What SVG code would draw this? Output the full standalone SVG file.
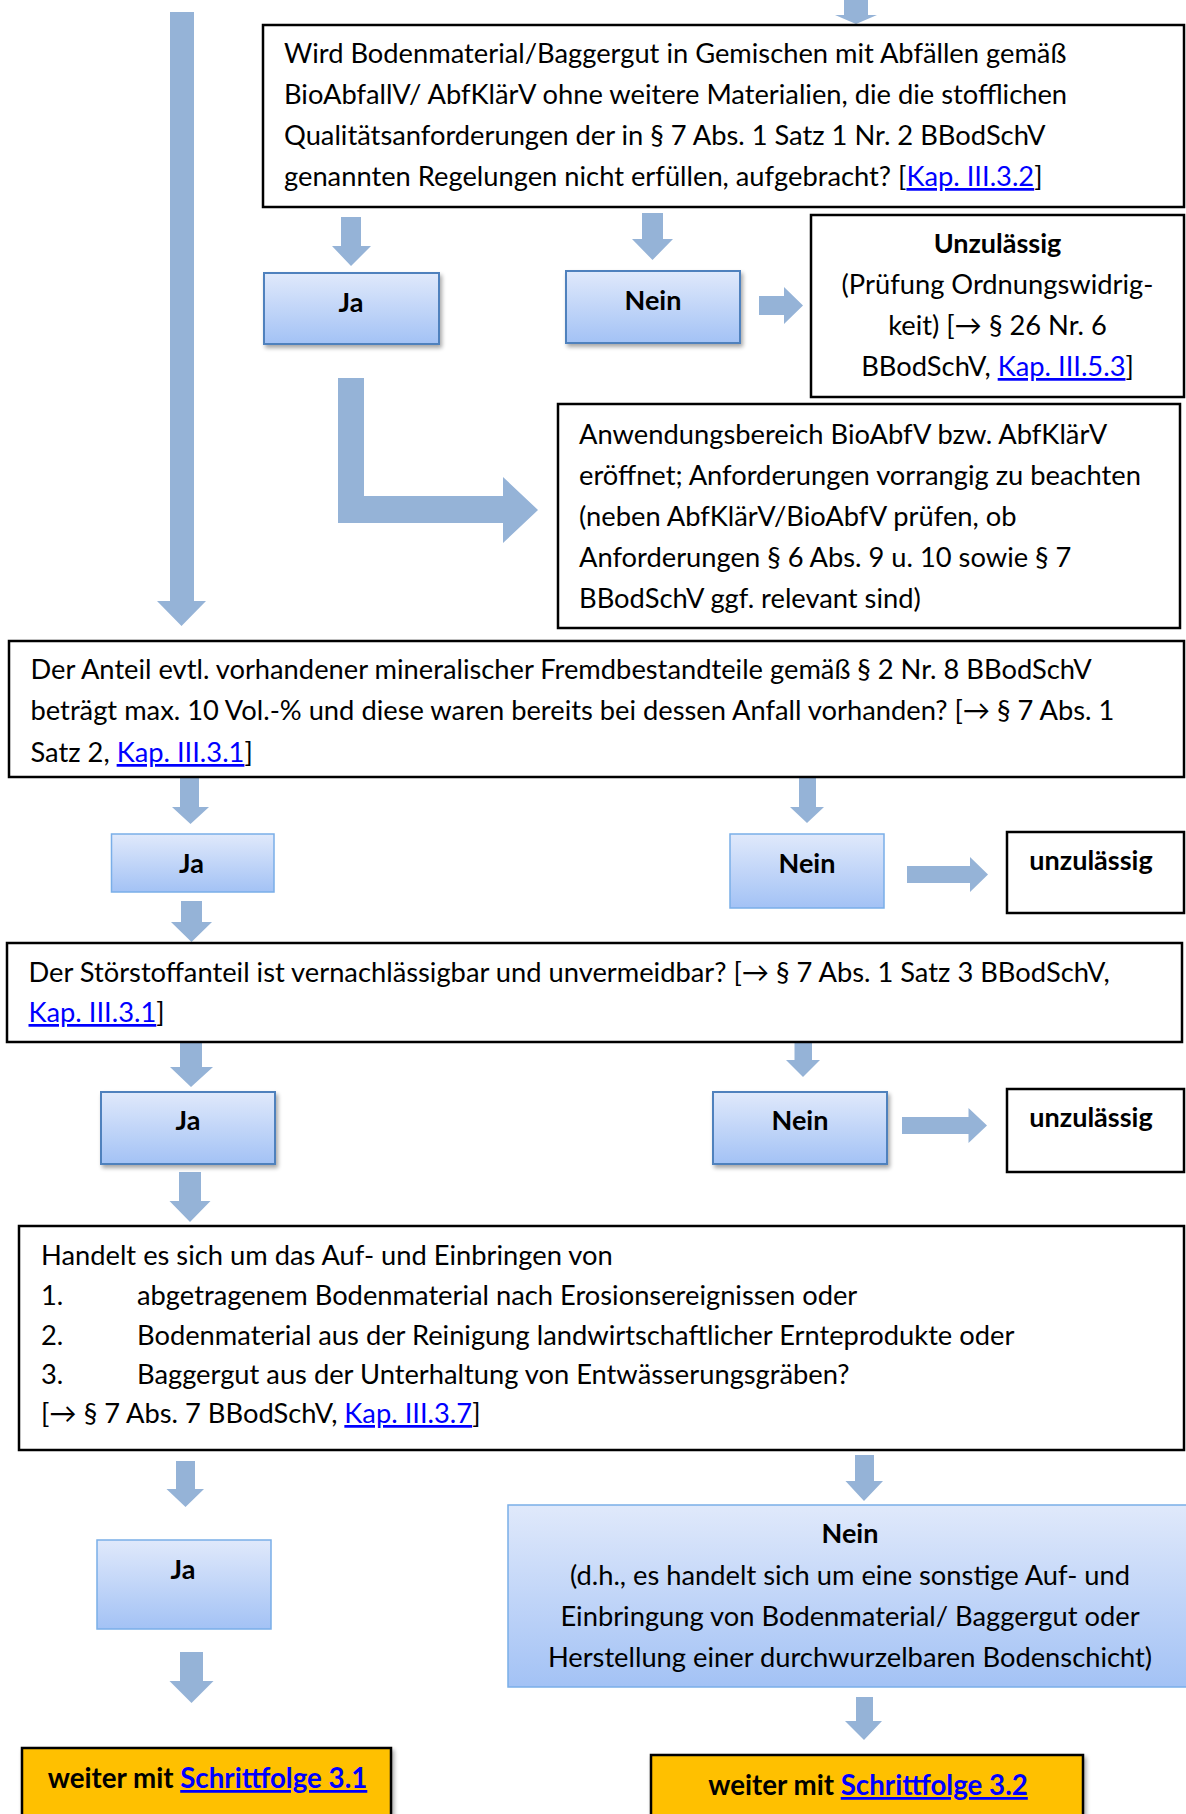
<svg xmlns="http://www.w3.org/2000/svg" width="1186" height="1814" viewBox="0 0 1186 1814">
<style>
.arr{fill:#95b3d7}
.box{fill:#fff;stroke:#000;stroke-width:2.5}
.gs{fill:url(#g);stroke:#4f81bd;stroke-width:2;filter:url(#sh)}
.gl{fill:url(#g);stroke:#7aaee8;stroke-width:1.5}
.yb{fill:#ffc000;stroke:#000;stroke-width:2.5;filter:url(#sh)}
text{font-family:Lato,"Liberation Sans",sans-serif;font-size:27.3px;fill:#000}
.b{font-weight:bold;font-size:27px}
.yt{font-weight:bold;font-size:27.7px}
.c{text-anchor:middle}
.lk{fill:#0000ff;text-decoration:underline}
</style>
<defs>
<linearGradient id="g" x1="0" y1="0" x2="0" y2="1">
<stop offset="0" stop-color="#e0e9fb"/>
<stop offset="1" stop-color="#a3c2f5"/>
</linearGradient>
<filter id="sh" x="-10%" y="-10%" width="125%" height="140%">
<feGaussianBlur in="SourceAlpha" stdDeviation="2"/>
<feOffset dx="2" dy="3" result="o"/>
<feComponentTransfer><feFuncA type="linear" slope="0.35"/></feComponentTransfer>
<feMerge><feMergeNode/><feMergeNode in="SourceGraphic"/></feMerge>
</filter>
</defs>

<g id="connectors">
<polygon class="arr" points="844,0 868,0 868,15 877,15 856,24 835,15 844,15"/>
<polygon class="arr" points="170,12 194,12 194,601 206,601 181.5,626 157,601 170,601"/>
<polygon class="arr" points="341,217 361,217 361,246 371,246 351,266 332,246 341,246"/>
<polygon class="arr" points="642,213 663,213 663,239 673,239 652.5,260 632,239 642,239"/>
<polygon class="arr" points="759,296 784,296 784,287 803,305.5 784,324 784,315 759,315"/>
<polygon class="arr" points="338,378 364,378 364,496 503,496 503,477 538,510 503,543 503,523 338,523"/>
<polygon class="arr" points="180,778 199,778 199,807 209,807 190.5,824 172,807 180,807"/>
<polygon class="arr" points="799,778 816,778 816,807 824,807 807,823 790,807 799,807"/>
<polygon class="arr" points="907,866 970,866 970,857 988,874.5 970,892 970,883 907,883"/>
<polygon class="arr" points="181,901 202,901 202,922 212,922 191.5,942 171,922 181,922"/>
<polygon class="arr" points="180,1042 202,1042 202,1067 213,1067 191,1087 170,1067 180,1067"/>
<polygon class="arr" points="794.5,1042 812,1042 812,1060 820,1060 803,1077 786,1060 794.5,1060"/>
<polygon class="arr" points="902,1117 968.5,1117 968.5,1108 987,1125.5 968.5,1143 968.5,1134 902,1134"/>
<polygon class="arr" points="179,1172 201,1172 201,1201 210.5,1201 190,1222 169.5,1201 179,1201"/>
<polygon class="arr" points="176,1461 195,1461 195,1489 204,1489 185.5,1507 166.5,1489 176,1489"/>
<polygon class="arr" points="855,1455 874,1455 874,1481 883,1481 864,1501 845.5,1481 855,1481"/>
<polygon class="arr" points="180,1652 203,1652 203,1681 213.5,1681 191.5,1703 169.5,1681 180,1681"/>
<polygon class="arr" points="856,1697 873,1697 873,1721 882,1721 864,1740 845,1721 856,1721"/>
</g>

<g id="q1">
<rect class="box" x="263" y="25" width="921" height="182"/>
<text x="284" y="63">Wird Bodenmaterial/Baggergut in Gemischen mit Abfällen gemäß</text>
<text x="284" y="104">BioAbfallV/ AbfKlärV ohne weitere Materialien, die die stofflichen</text>
<text x="284" y="145">Qualitätsanforderungen der in § 7 Abs. 1 Satz 1 Nr. 2 BBodSchV</text>
<text x="284" y="186">genannten Regelungen nicht erfüllen, aufgebracht? [<tspan class="lk">Kap. III.3.2</tspan>]</text>
</g>

<g id="ja1">
<rect class="gs" x="264" y="273" width="175" height="71"/>
<text class="b c" x="351" y="312">Ja</text>
</g>

<g id="nein1">
<rect class="gs" x="566" y="271" width="174" height="72"/>
<text class="b c" x="653" y="310">Nein</text>
</g>

<g id="unz1">
<rect class="box" x="811" y="215" width="373" height="182"/>
<text class="b c" x="997.5" y="253">Unzulässig</text>
<text class="c" x="997.5" y="294">(Prüfung Ordnungswidrig-</text>
<text class="c" x="997.5" y="335">keit) [→ § 26 Nr. 6</text>
<text class="c" x="997.5" y="376">BBodSchV, <tspan class="lk">Kap. III.5.3</tspan>]</text>
</g>

<g id="anw">
<rect class="box" x="558" y="404" width="622" height="224"/>
<text x="579" y="444">Anwendungsbereich BioAbfV bzw. AbfKlärV</text>
<text x="579" y="485">eröffnet; Anforderungen vorrangig zu beachten</text>
<text x="579" y="526">(neben AbfKlärV/BioAbfV prüfen, ob</text>
<text x="579" y="567">Anforderungen § 6 Abs. 9 u. 10 sowie § 7</text>
<text x="579" y="608">BBodSchV ggf. relevant sind)</text>
</g>

<g id="q2">
<rect class="box" x="9" y="641" width="1175" height="136"/>
<text x="30.5" y="679">Der Anteil evtl. vorhandener mineralischer Fremdbestandteile gemäß § 2 Nr. 8 BBodSchV</text>
<text x="30.5" y="720">beträgt max. 10 Vol.-% und diese waren bereits bei dessen Anfall vorhanden? [→ § 7 Abs. 1</text>
<text x="30.5" y="762">Satz 2, <tspan class="lk">Kap. III.3.1</tspan>]</text>
</g>

<g id="ja2">
<rect class="gl" x="111.5" y="834" width="162.5" height="58"/>
<text class="b c" x="191.5" y="873">Ja</text>
</g>

<g id="nein2">
<rect class="gl" x="730" y="834" width="154" height="74"/>
<text class="b c" x="807" y="873">Nein</text>
</g>

<g id="unz2">
<rect class="box" x="1007" y="832" width="177" height="81"/>
<text class="b c" x="1091" y="870">unzulässig</text>
</g>

<g id="q3">
<rect class="box" x="7" y="943" width="1175" height="99"/>
<text x="28.5" y="982">Der Störstoffanteil ist vernachlässigbar und unvermeidbar? [→ § 7 Abs. 1 Satz 3 BBodSchV,</text>
<text x="28.5" y="1022"><tspan class="lk">Kap. III.3.1</tspan>]</text>
</g>

<g id="ja3">
<rect class="gs" x="101" y="1092" width="174" height="72"/>
<text class="b c" x="188" y="1130">Ja</text>
</g>

<g id="nein3">
<rect class="gs" x="713" y="1092" width="174" height="72"/>
<text class="b c" x="800" y="1130">Nein</text>
</g>

<g id="unz3">
<rect class="box" x="1007" y="1089" width="177" height="83"/>
<text class="b c" x="1091" y="1127">unzulässig</text>
</g>

<g id="q4">
<rect class="box" x="19" y="1226" width="1165" height="224"/>
<text x="41" y="1265">Handelt es sich um das Auf- und Einbringen von</text>
<text x="41" y="1305">1.</text><text x="137" y="1305">abgetragenem Bodenmaterial nach Erosionsereignissen oder</text>
<text x="41" y="1345">2.</text><text x="137" y="1345">Bodenmaterial aus der Reinigung landwirtschaftlicher Ernteprodukte oder</text>
<text x="41" y="1384">3.</text><text x="137" y="1384">Baggergut aus der Unterhaltung von Entwässerungsgräben?</text>
<text x="41" y="1423">[→ § 7 Abs. 7 BBodSchV, <tspan class="lk">Kap. III.3.7</tspan>]</text>
</g>

<g id="ja4">
<rect class="gl" x="97" y="1540" width="174" height="89"/>
<text class="b c" x="183" y="1579">Ja</text>
</g>

<g id="nein4">
<rect class="gl" x="508" y="1505" width="682" height="182"/>
<text class="b c" x="850" y="1543">Nein</text>
<text class="c" x="850" y="1584.5">(d.h., es handelt sich um eine sonstige Auf- und</text>
<text class="c" x="850" y="1626">Einbringung von Bodenmaterial/ Baggergut oder</text>
<text class="c" x="850" y="1667">Herstellung einer durchwurzelbaren Bodenschicht)</text>
</g>

<g id="weiter31">
<rect class="yb" x="22" y="1748" width="369" height="80"/>
<text class="yt c" x="207.5" y="1788">weiter mit <tspan class="lk">Schrittfolge 3.1</tspan></text>
</g>

<g id="weiter32">
<rect class="yb" x="651" y="1755" width="432" height="80"/>
<text class="yt c" x="868" y="1795">weiter mit <tspan class="lk">Schrittfolge 3.2</tspan></text>
</g>
</svg>
